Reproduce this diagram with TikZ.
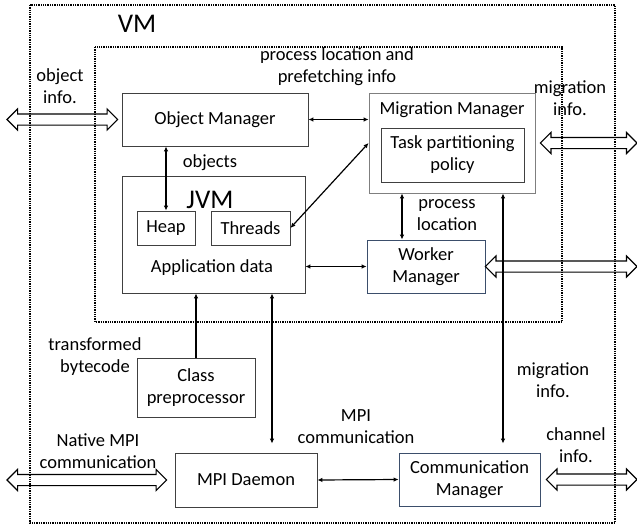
\documentclass[tikz,border=0pt]{standalone}
\usepackage{fontspec}
\setmainfont{Carlito}
\usetikzlibrary{arrows.meta, positioning, calc, shapes.arrows}
\definecolor{boxgray}{HTML}{7F7F7F}
\definecolor{boxdark}{HTML}{404040}
\definecolor{boxslate}{HTML}{3B4E6B}
\newcommand{\hollowlink}[2]{%
  \path let \p1=($(#2)-(#1)$) in
    node[hollow, minimum height={abs(\x1)}] at ($(#1)!0.5!(#2)$) {};}

\begin{document}
\begin{tikzpicture}[
      x=1pt, y=-1pt,
      every node/.style={font=\fontsize{18.5}{22}\selectfont, align=center},
      comp/.style={draw=boxdark, line width=0.8pt, inner sep=0pt},
      title/.style={font=\fontsize{27}{30}\selectfont},
      frame/.style={densely dotted, line width=1.3pt},
      link/.style={{Latex[length=5pt,width=4.5pt]}-{Latex[length=5pt,width=4.5pt]}, line width=1.2pt},
      hollow/.style={shape=double arrow, draw, line width=1.1pt, inner xsep=0pt,
        inner ysep=5pt, double arrow head extend=5pt, double arrow head indent=0pt},
      >={Latex[length=5pt,width=4.5pt]}
    ]
      \useasboundingbox (0,0) rectangle (637,527);
      \draw[frame] (30,5) rectangle (615,523);
      \draw[frame] (95,47) rectangle (562,322);
      \node[title] (vmlabel) at (137,24) {VM};

      \node[comp, minimum width=186pt, minimum height=53pt] (om) at (215,119.5) {Object Manager};
      \node[comp, minimum width=183pt, minimum height=117pt] (jvm) at (213.5,234.5) {};
      \node[title] (jvmlabel) at (210,200) {JVM};
      \node[comp, minimum width=58pt, minimum height=34pt] (heap) at (166,228) {Heap};
      \node[comp, minimum width=79pt, minimum height=34pt] (threads) at (250.5,228) {Threads};
      \node (appdata) at (212,268) {Application data};

      \node[comp, draw=boxgray, minimum width=166pt, minimum height=100pt] (mm) at (452,143) {};
      \node (mmlabel) at (452,110) {Migration Manager};
      \node[comp, minimum width=143pt, minimum height=54pt] (tpp) at (452.5,155) {Task partitioning\\policy};
      \node[comp, draw=boxslate, minimum width=118pt, minimum height=53pt] (wm) at (426,266.5) {Worker\\Manager};

      \node[comp, minimum width=118pt, minimum height=59pt] (cp) at (196,387.5) {Class\\preprocessor};
      \node[comp, minimum width=142pt, minimum height=54pt] (mpi) at (246,480) {MPI Daemon};
      \node[comp, draw=boxslate, minimum width=141pt, minimum height=53pt] (cm) at (469.5,479.5) {Communication\\Manager};

      \node (prefetch) at (337,67) {process location and\\prefetching info};
      \node (objinfo) at (60,86) {object\\info.};
      \node (miginfo) at (570,98.5) {migration\\info.};
      \node (objects) at (210,163) {objects};
      \node (procloc) at (447,215) {process\\location};
      \node (bytecode) at (95,357) {transformed\\bytecode};
      \node (miginfo2) at (553,380) {migration\\info.};
      \node (mpicomm) at (356,427) {MPI\\communication};
      \node (chaninfo) at (576,445) {channel\\info.};
      \node (nativempi) at (98,451) {Native MPI\\communication};

      \coordinate (objend) at (7,119.5);
      \coordinate (migend) at (637,143);
      \coordinate (wmend) at (637,266.5);
      \coordinate (chanend) at (637,479.5);
      \coordinate (nativeend) at (7,480);

      \draw[link] (om.east) -- (om.east -| mm.west);
      \draw[link] (heap.north) -- (heap.north |- om.south);
      \draw[link] (threads.east) -- (mm.west);
      \draw[link] ([xshift=-24pt]wm.north) -- ([xshift=-24pt]wm.north |- mm.south);
      \draw[link] (wm.west) -- (wm.west -| jvm.east);
      \draw[link, shorten <=9pt] ([xshift=33.5pt]cm.north) -- ([xshift=33.5pt]cm.north |- mm.south);
      \draw[->, line width=1.2pt] (cp.north) -- (cp.north |- jvm.south);
      \draw[link, shorten <=9pt] ([xshift=26pt]mpi.north) -- ([xshift=26pt]mpi.north |- jvm.south);
      \draw[link] (mpi.east) -- (cm.west);

      \hollowlink{objend}{$(om.west)+(-4,0)$}
      \hollowlink{$(mm.east)+(5,0)$}{migend}
      \hollowlink{wm.east}{wmend}
      \hollowlink{$(cm.east)+(6,0)$}{chanend}
      \hollowlink{nativeend}{$(mpi.west)+(-8,0)$}
    \end{tikzpicture}
\end{document}
